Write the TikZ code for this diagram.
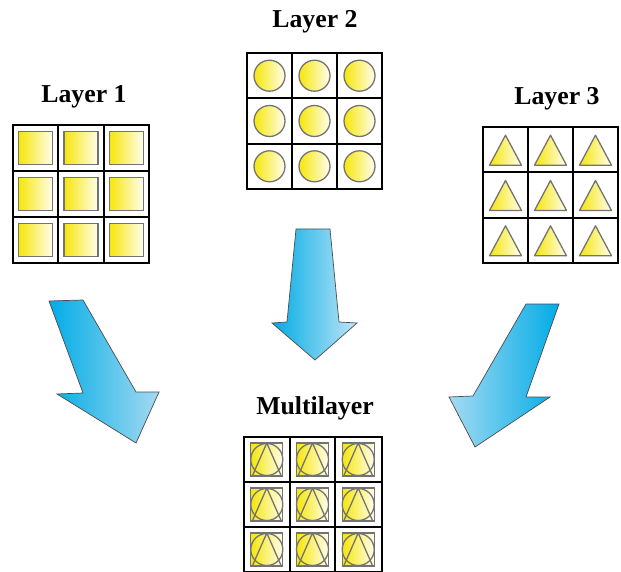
\documentclass[tikz,border=0pt]{standalone}
\usepackage{fontspec}
\setmainfont{Liberation Serif}
\usetikzlibrary{positioning}

\definecolor{yelA}{RGB}{246,230,10}
\definecolor{yelB}{RGB}{255,254,238}
\definecolor{bluA}{RGB}{0,172,230}
\definecolor{bluB}{RGB}{165,218,242}

\tikzset{
  title/.style={font=\fontsize{22}{26}\selectfont\bfseries},
  gridline/.style={line width=1.7pt},
  gridframe/.style={line width=2.2pt},
  yelfill/.style={left color=yelA, right color=yelB},
  shapeline/.style={draw=black!55, line width=1.1pt},
  blockarrow/.style={draw=black!70, line width=0.6pt}
}

\begin{document}
\begin{tikzpicture}[x=0.03cm,y=-0.03cm]
    \useasboundingbox (0,0) rectangle (621,572);

    % titles
    \node[title] (t1) at (84,97) {Layer 1};
    \node[title] (t2) at (315,22) {Layer 2};
    \node[title] (t3) at (557,99) {Layer 3};
    \node[title] (tm) at (315,408) {Multilayer};

    % layer 1: squares
    \foreach \i in {0,1,2} {
        \foreach \j in {0,1,2} {
            \draw[shapeline, yelfill] ({13+22.7+45.3*\i-17},{125+23+46*\j-16.5}) rectangle ++(34,33);
        }
    }
    \draw[gridline] (58.3,125) -- (58.3,263) (103.7,125) -- (103.7,263);
    \draw[gridline] (13,171) -- (149,171) (13,217) -- (149,217);
    \draw[gridframe] (13,125) rectangle (149,263);

    % layer 2: circles
    \foreach \i in {0,1,2} {
        \foreach \j in {0,1,2} {
            \draw[shapeline, yelfill] ({247+22.5+45*\i},{53+22.7+45.3*\j}) circle (15.5);
        }
    }
    \draw[gridline] (292,53) -- (292,189) (337,53) -- (337,189);
    \draw[gridline] (247,98.3) -- (382,98.3) (247,143.7) -- (382,143.7);
    \draw[gridframe] (247,53) rectangle (382,189);

    % layer 3: triangles
    \foreach \i in {0,1,2} {
        \foreach \j in {0,1,2} {
            \draw[shapeline, yelfill, line join=round]
                ({483+22.5+45*\i},{127+22.7+45.3*\j-14.5}) -- ++(16,30) -- ++(-32,0) -- cycle;
        }
    }
    \draw[gridline] (528,127) -- (528,263) (573,127) -- (573,263);
    \draw[gridline] (483,172.3) -- (618,172.3) (483,217.7) -- (618,217.7);
    \draw[gridframe] (483,127) rectangle (618,263);

    % multilayer: all three stacked
    \foreach \i in {0,1,2} {
        \foreach \j in {0,1,2} {
            \coordinate (c) at ({244+22.8+45.7*\i},{437+22.5+45*\j});
            \draw[shapeline, yelfill] ([shift={(-16,-16.5)}]c) rectangle ([shift={(16,16.5)}]c);
            \draw[shapeline, yelfill, fill opacity=0.9] (c) circle (16);
            \draw[shapeline, line join=round] ([shift={(0,-16.5)}]c) -- ([shift={(14.5,16.5)}]c) -- ([shift={(-14.5,16.5)}]c) -- cycle;
        }
    }
    \draw[gridline] (289.7,437) -- (289.7,572) (335.3,437) -- (335.3,572);
    \draw[gridline] (244,482) -- (382,482) (244,527) -- (382,527);
    \draw[gridframe] (244,437) rectangle (382,572);

    % arrows
    \draw[blockarrow, left color=bluA, right color=bluB]
        (49,301) -- (83,300) -- (136,392) -- (159,392) -- (136,443) -- (57,394) -- (83,393) -- cycle;
    \draw[blockarrow, left color=bluA, right color=bluB!70!white]
        (296,229) -- (330,229) -- (339,322) -- (357,323) -- (315,360) -- (272,323) -- (287,322) -- cycle;
    \draw[blockarrow, left color=bluB, right color=bluA]
        (526,304) -- (559,304) -- (526,397) -- (550,397) -- (475,447) -- (449,397) -- (473,396) -- cycle;
\end{tikzpicture}
\end{document}
